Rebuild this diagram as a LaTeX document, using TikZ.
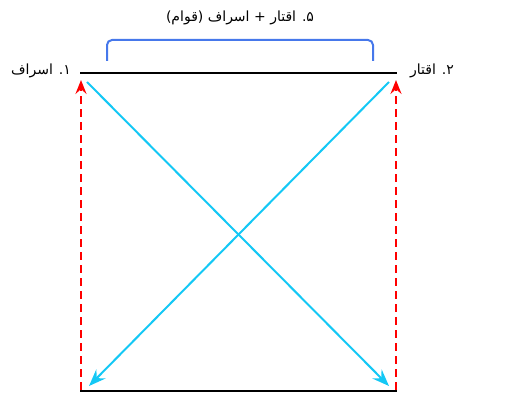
\documentclass[tikz,border=0pt]{standalone}
\usepackage{fontspec}
\newfontfamily\arabicfont[Script=Arabic]{DejaVu Sans}
\TeXXeTstate=1
\usetikzlibrary{arrows.meta}
\definecolor{cyanline}{RGB}{20,200,245}
\definecolor{bracketblue}{RGB}{70,120,235}
\tikzset{
  lbl/.style={inner sep=1pt,font=\arabicfont\fontsize{14}{16}\selectfont},
  baseline/.style={line width=2pt,black},
  reddash/.style={red,line width=2.2pt,dash pattern=on 8pt off 5pt,-{Stealth[length=14pt,width=11pt,inset=5pt]}},
  cyanarrow/.style={cyanline,line width=2pt,-{Stealth[length=17pt,width=13pt,inset=6pt]}},
  bracket/.style={bracketblue,line width=2pt,rounded corners=5pt}
}
\begin{document}
\begin{tikzpicture}[x=1pt,y=-1pt]
\useasboundingbox (0,0) rectangle (515,393);
% coordinates
\coordinate (TL) at (80,73);
\coordinate (TR) at (397,73);
\coordinate (BL) at (80,391);
\coordinate (BR) at (397,391);
\coordinate (rlb) at (81,390);
\coordinate (rlt) at (81,80);
\coordinate (rrb) at (396,390);
\coordinate (rrt) at (396,80);
\coordinate (cl1) at (87,82);
\coordinate (cl2) at (389,386);
\coordinate (cr1) at (389,82);
\coordinate (cr2) at (89,386);
\coordinate (b1) at (107,61);
\coordinate (b2) at (107,40);
\coordinate (b3) at (373,40);
\coordinate (b4) at (373,61);
% lines
\draw[baseline] (TL) -- (TR);
\draw[baseline,line width=2.4pt] (BL) -- (BR);
\draw[reddash] (rlb) -- (rlt);
\draw[reddash] (rrb) -- (rrt);
\draw[cyanarrow] (cl1) -- (cl2);
\draw[cyanarrow] (cr1) -- (cr2);
\draw[bracket] (b1) -- (b2) -- (b3) -- (b4);
% labels
\node[lbl] (l1) at (41,71) {\beginR ۱. اسراف\endR};
\node[lbl] (l2) at (432,71) {\beginR ۲. اقتار\endR};
\node[lbl] (l5) at (240,18) {\beginR ۵. اقتار + اسراف (قوام)\endR};
\end{tikzpicture}
\end{document}
